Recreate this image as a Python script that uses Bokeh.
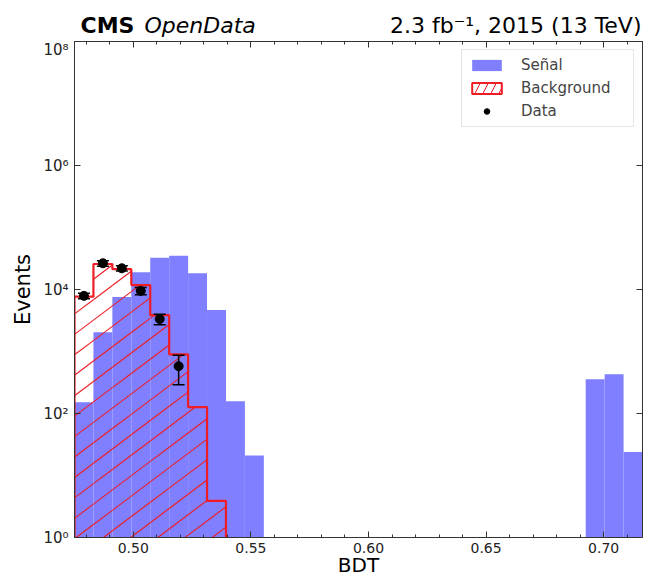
import numpy as np
from bokeh.plotting import figure
from bokeh.layouts import column
from bokeh.models import (ColumnDataSource, FixedTicker, SingleIntervalTicker, LinearAxis, LogAxis,
                          Legend, LegendItem, Range1d, PrintfTickFormatter)
from bokeh.core.properties import value
from bokeh.embed import file_html
from bokeh.resources import INLINE

# ---------------- data ----------------
bdt_min = 0.475
bdt_max = 0.7165
n_bins = 30

signal = [152, 2050, 7600, 19000, 32500, 35000, 18300, 4650, 158, 21,
          0, 0, 0, 0, 0, 0, 0, 0, 0, 0, 0, 0, 0, 0, 0, 0, 0,
          357, 430, 24]
background = [7650, 25800, 21300, 11800, 3860, 900, 127, 3.9,
              0, 0, 0, 0, 0, 0, 0, 0, 0, 0, 0, 0, 0, 0, 0, 0, 0, 0, 0, 0, 0, 0]
data_counts = [7900, 26500, 22000, 9500, 3350, 580]
data_errors = [800, 2700, 2100, 1300, 650, 290]

x_ticks = [0.50, 0.55, 0.60, 0.65, 0.70]
y_ticks = [1, 1e2, 1e4, 1e6, 1e8]
y_tick_labels = ["10\u2070", "10\u00b2", "10\u2074", "10\u2076", "10\u2078"]

title_left_bold = "CMS"
title_left_italic = "OpenData"
title_right = "2.3 fb\u207b\u00b9, 2015 (13 TeV)"
x_label = "BDT"
y_label = "Events"
legend_labels = ["Señal", "Background", "Data"]

# ---------------- layout constants ----------------
W, H_HEAD, H_MAIN = 645, 40, 539
B_LEFT, B_RIGHT, B_TOP, B_BOTTOM = 74, 3, 2, 42
FONT = "DejaVu Sans"
RED = "#ee1c24"
BLUE = "#7f7fff"
AX = "#333333"

# ---------------- derived ----------------
edges = np.linspace(bdt_min, bdt_max, n_bins + 1)
left = edges[:-1]
right = edges[1:]
centers = 0.5 * (left + right)
floor = 1e-3

sig = np.array(signal, dtype=float)
bkg = np.array(background, dtype=float)
m_sig = sig > 0
m_bkg = bkg > 0

sig_src = ColumnDataSource(dict(left=left[m_sig], right=right[m_sig], top=sig[m_sig],
                                bottom=np.full(m_sig.sum(), floor)))

# step outline of background
nb = int(m_bkg.sum())
sx, sy = [edges[0]], [floor]
for i in range(nb):
    sx += [edges[i], edges[i + 1]]
    sy += [bkg[i], bkg[i]]
sx.append(edges[nb]); sy.append(floor)

# hatch ("/" lines) clipped to the background histogram
frame_w = W - B_LEFT - B_RIGHT
frame_h = H_MAIN - B_TOP - B_BOTTOM
px_per_x = frame_w / (bdt_max - bdt_min)
px_per_dec = frame_h / 8.0
hatch_slope_px = 0.75
hatch_gap_px = 27.2
hatch_phase_px = 1.7
a = hatch_slope_px * px_per_x / px_per_dec          # decades per x unit
step = hatch_gap_px / px_per_x
hx0, hy0, hx1, hy1 = [], [], [], []
for k in range(-25, 15):
    xk = bdt_min + hatch_phase_px / px_per_x + k * step
    for i in range(nb):
        lv = np.log10(bkg[i])
        lo = max(left[i], xk)
        hi = min(right[i], xk + lv / a)
        if hi > lo:
            hx0.append(lo); hy0.append(10 ** (a * (lo - xk)))
            hx1.append(hi); hy1.append(10 ** (a * (hi - xk)))
hatch_src = ColumnDataSource(dict(x0=hx0, y0=hy0, x1=hx1, y1=hy1))

dc = np.array(data_counts, dtype=float)
de = np.array(data_errors, dtype=float)
dx = centers[:len(dc)]
dat_src = ColumnDataSource(dict(x=dx, y=dc, lo=dc - de, hi=dc + de))

# ---------------- header (titles) ----------------
head = figure(width=W, height=H_HEAD, x_range=Range1d(B_LEFT, W - B_RIGHT), y_range=Range1d(0, H_HEAD),
              output_backend="svg", toolbar_location=None,
              min_border_left=B_LEFT, min_border_right=B_RIGHT, min_border_top=0, min_border_bottom=0,
              x_axis_location=None, y_axis_location=None)
head.xgrid.visible = False
head.ygrid.visible = False
head.outline_line_color = None
ty = 15
head.text(x=[80], y=[ty], text=[title_left_bold], text_font=value(FONT), text_font_style="bold",
          text_font_size="22px", text_baseline="alphabetic", text_color="black")
head.text(x=[144], y=[ty], text=[title_left_italic], text_font=value(FONT), text_font_style="italic",
          text_font_size="22px", text_baseline="alphabetic", text_color="black")
head.text(x=[641], y=[ty], text=[title_right], text_font=value(FONT), text_font_size="22px",
          text_align="right", text_baseline="alphabetic", text_color="black")

# ---------------- main plot ----------------
p = figure(width=W, height=H_MAIN, x_range=Range1d(bdt_min, bdt_max), y_range=Range1d(1, 1e8),
           y_axis_type="log", output_backend="svg", toolbar_location=None,
           min_border_left=B_LEFT, min_border_right=2, min_border_top=1, min_border_bottom=40)
p.xgrid.visible = False
p.ygrid.visible = False
p.outline_line_color = AX

r_sig = p.quad(left="left", right="right", top="top", bottom="bottom", source=sig_src,
               fill_color=BLUE, line_color=None)
p.segment(x0="x0", y0="y0", x1="x1", y1="y1", source=hatch_src, line_color=RED, line_width=1.1)
p.line(sx, sy, line_color=RED, line_width=2.2)

p.segment(x0="x", y0="lo", x1="x", y1="hi", source=dat_src, line_color="black", line_width=1.5)
p.scatter(x="x", y="hi", source=dat_src, marker="dash", size=12, line_color="black", line_width=1.5)
p.scatter(x="x", y="lo", source=dat_src, marker="dash", size=12, line_color="black", line_width=1.5)
r_dat = p.scatter(x="x", y="y", source=dat_src, marker="circle", size=9, fill_color="black", line_color="black")

# legend proxy for the hatched background (one invisible NaN row)
proxy_q = ColumnDataSource(dict(left=[np.nan], right=[np.nan], top=[np.nan], bottom=[np.nan]))
r_bkg_leg = p.quad(left="left", right="right", top="top", bottom="bottom", source=proxy_q,
                   fill_alpha=0, line_color=RED, line_width=2, hatch_pattern="/",
                   hatch_color=RED, hatch_scale=16, hatch_weight=1)

legend = Legend(items=[LegendItem(label=legend_labels[0], renderers=[r_sig]),
                       LegendItem(label=legend_labels[1], renderers=[r_bkg_leg]),
                       LegendItem(label=legend_labels[2], renderers=[r_dat])],
                location="top_right", margin=8, padding=6, spacing=5,
                glyph_width=37, glyph_height=14, label_height=14, label_width=106,
                label_standoff=16, label_text_font=FONT, label_text_font_size="15px",
                border_line_color="#cccccc", border_line_width=1, background_fill_alpha=0.8)
p.add_layout(legend, "center")

# axes
xt = SingleIntervalTicker(interval=0.05, num_minor_ticks=5)
yt = FixedTicker(ticks=y_ticks, minor_ticks=[])
overrides = {float(t): l for t, l in zip(y_ticks, y_tick_labels)}

for ax in p.xaxis:
    ax.ticker = xt
    ax.formatter = PrintfTickFormatter(format="%.2f")
    ax.axis_label = x_label
for ax in p.yaxis:
    ax.ticker = yt
    ax.major_label_overrides = overrides
    ax.axis_label = y_label

for ax in list(p.xaxis) + list(p.yaxis):
    ax.major_tick_in = 6
    ax.major_tick_out = 0
    ax.minor_tick_in = 3
    ax.minor_tick_out = 0
    ax.axis_line_color = AX
    ax.major_tick_line_color = AX
    ax.minor_tick_line_color = AX
    ax.major_label_text_font = FONT
    ax.major_label_text_color = "#222222"
    ax.axis_label_text_font = FONT
    ax.axis_label_text_font_style = "normal"
    ax.axis_label_text_color = "black"

p.xaxis.major_label_text_font_size = "14px"
p.xaxis.major_label_standoff = 5
p.xaxis.axis_label_text_font_size = "20px"
p.xaxis.axis_label_standoff = -3
p.yaxis.major_label_text_font_size = "15px"
p.yaxis.major_label_standoff = 6
p.yaxis.axis_label_text_font_size = "21px"
p.yaxis.axis_label_standoff = 5

top_ax = LinearAxis(ticker=xt, major_label_text_font_size="1px", major_label_text_alpha=0,
                    major_label_standoff=0,
                    major_tick_in=6, major_tick_out=0, minor_tick_in=3, minor_tick_out=0,
                    axis_line_color=AX, major_tick_line_color=AX, minor_tick_line_color=AX)
right_ax = LogAxis(ticker=yt, major_label_text_font_size="1px", major_label_text_alpha=0,
                   major_label_standoff=0,
                   major_tick_in=6, major_tick_out=0, minor_tick_in=3, minor_tick_out=0,
                   axis_line_color=AX, major_tick_line_color=AX, minor_tick_line_color=AX)
p.add_layout(top_ax, "above")
p.add_layout(right_ax, "right")

layout = column(head, p, spacing=0)
open("out.html", "w").write(file_html(layout, INLINE))
